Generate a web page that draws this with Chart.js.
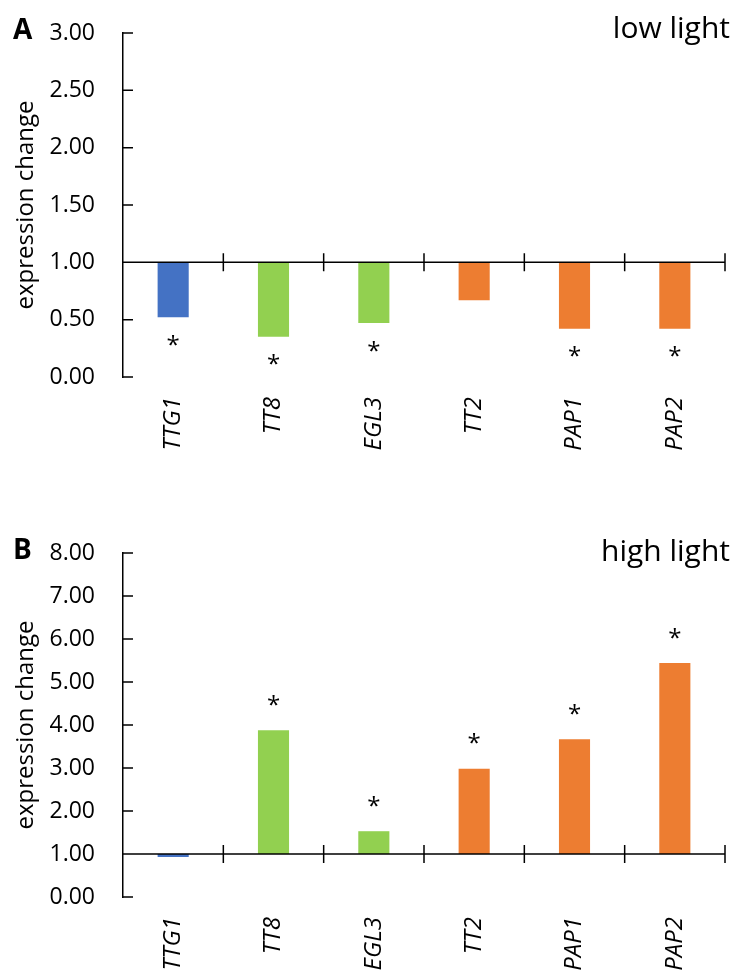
<!DOCTYPE html>
<html>
<head>
<meta charset="utf-8">
<script src="https://cdn.jsdelivr.net/npm/chart.js@4/dist/chart.umd.min.js"></script>
<style>
  html, body { margin: 0; padding: 0; background: #fff; overflow: hidden; }
  body { width: 734px; height: 975px; position: relative; }
  .panel { position: absolute; left: 0; width: 734px; }
  #panelA { top: 0; height: 480px; }
  #panelB { top: 500px; height: 475px; }
</style>
</head>
<body>
<div class="panel" id="panelA"><canvas id="chartA" width="734" height="480"></canvas></div>
<div class="panel" id="panelB"><canvas id="chartB" width="734" height="475"></canvas></div>
<script>
// Genes shown on the x axis
const genes = ['TTG1', 'TT8', 'EGL3', 'TT2', 'PAP1', 'PAP2'];
// Relative expression (control = 1.00)
const lowLight = [0.52, 0.35, 0.47, 0.67, 0.42, 0.42];
const highLight = [0.93, 3.88, 1.53, 2.98, 3.67, 5.44];
// Significance marks per gene
const sigLow = ['*', '*', '*', '', '*', '*'];
const sigHigh = ['', '*', '*', '*', '*', '*'];
// Reference level the bars grow from
const controlLevel = 1.0;
// Bar colours per gene group
const geneColors = ['#4472C4', '#92D050', '#92D050', '#ED7D31', '#ED7D31', '#ED7D31'];

Chart.defaults.font.family = "'Open Sans', 'Noto Sans', sans-serif";
Chart.defaults.color = '#000';

// Draws the control line with category ticks, inward y ticks, significance marks and panel texts
const panelDecor = {
  id: 'panelDecor',
  afterDatasetsDraw(chart, args, opts) {
    const { ctx, chartArea, scales: { x, y } } = chart;
    const yBase = y.getPixelForValue(opts.baseline);
    const half = (x.getPixelForValue(1) - x.getPixelForValue(0)) / 2;
    ctx.save();
    ctx.strokeStyle = '#000';
    ctx.lineWidth = 1.5;
    ctx.beginPath();
    ctx.moveTo(chartArea.left, yBase);
    ctx.lineTo(chartArea.right, yBase);
    for (let i = 0; i < opts.values.length; i++) {
      const bx = x.getPixelForValue(i) + half;
      ctx.moveTo(bx, yBase - 9);
      ctx.lineTo(bx, yBase + 9);
    }
    y.ticks.forEach(t => {
      const py = y.getPixelForValue(t.value);
      ctx.moveTo(chartArea.left, py);
      ctx.lineTo(chartArea.left + 10, py);
    });
    ctx.stroke();

    // significance asterisks beyond the bar ends
    ctx.fillStyle = '#000';
    ctx.font = "24px 'Open Sans'";
    ctx.textAlign = 'center';
    ctx.textBaseline = 'alphabetic';
    const m = ctx.measureText('*');
    const centerShift = (m.actualBoundingBoxAscent - m.actualBoundingBoxDescent) / 2;
    opts.values.forEach((v, i) => {
      if (!opts.marks[i]) return;
      const end = y.getPixelForValue(v);
      const cy = v >= opts.baseline ? end - opts.markAbove : end + opts.markBelow;
      ctx.fillText(opts.marks[i], x.getPixelForValue(i), cy + centerShift);
    });

    // panel letter and condition title
    ctx.textAlign = 'left';
    ctx.font = "bold 28px 'Open Sans'";
    ctx.fillText(opts.letter, opts.letterX, opts.textY);
    ctx.textAlign = 'right';
    ctx.font = "30px 'Open Sans'";
    ctx.fillText(opts.title, opts.titleRight, opts.titleY);
    ctx.restore();
  }
};

function makeChart(canvasId, values, marks, yMax, step, topPad, xHeight, letter, title, letterY, titleY, markAbove, markBelow) {
  return new Chart(document.getElementById(canvasId), {
    type: 'bar',
    data: {
      labels: genes,
      datasets: [{
        data: values.map(v => [controlLevel, v]),
        backgroundColor: geneColors,
        borderWidth: 0,
        barPercentage: 0.31,
        categoryPercentage: 1.0
      }]
    },
    options: {
      responsive: false,
      animation: false,
      events: [],
      layout: { padding: { top: topPad, right: 9, left: 0, bottom: 0 } },
      plugins: {
        legend: { display: false },
        tooltip: { enabled: false },
        panelDecor: {
          baseline: controlLevel, values, marks, letter, title,
          letterX: 13, textY: letterY, titleRight: 730, titleY,
          markAbove, markBelow
        }
      },
      scales: {
        x: {
          offset: true,
          grid: { display: false, drawTicks: false },
          border: { display: false },
          ticks: {
            minRotation: 90, maxRotation: 90, padding: 20,
            autoSkip: false,
            font: { size: 24, style: 'italic' }
          },
          afterFit(scale) { scale.height = xHeight; }
        },
        y: {
          min: 0, max: yMax,
          grid: { display: false, drawTicks: false },
          border: { display: true, color: '#000', width: 1.5 },
          ticks: {
            stepSize: step, padding: 28,
            font: { size: 23 },
            callback: v => Number(v).toFixed(2)
          },
          title: {
            display: true, text: 'expression change',
            font: { size: 24 }, padding: { top: 12, bottom: 0 }
          },
          afterFit(scale) { scale.width = 123; scale.paddingTop = 0; scale.paddingBottom = 0; }
        }
      }
    },
    plugins: [panelDecor]
  });
}

makeChart('chartA', lowLight, sigLow, 3, 0.5, 33, 103, 'A', 'low light', 39, 38, 30, 23);
makeChart('chartB', highLight, sigHigh, 8, 1, 53, 78, 'B', 'high light', 59, 61, 30, 23);
</script>
</body>
</html>
